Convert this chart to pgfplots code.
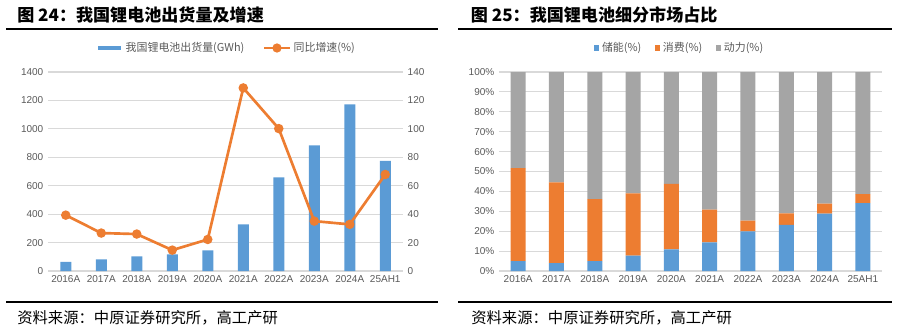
\documentclass[border=0pt]{standalone}
\usepackage{fontspec}
\setmainfont{Liberation Sans}
\newfontfamily\cjk{Noto Sans CJK SC}
\usepackage{pgfplots}
\usepackage{pgfplotstable}
\pgfplotsset{compat=1.18}
\definecolor{cblue}{HTML}{5B9BD5}
\definecolor{corange}{HTML}{ED7D31}
\definecolor{cgray}{HTML}{A5A5A5}
\definecolor{tgray}{HTML}{595959}
\definecolor{ggray}{HTML}{D9D9D9}

\pgfplotstableread{
x vol growth
0 65 39.3
1 82 26.7
2 103 26.0
3 117 14.7
4 145 22.2
5 328 128.8
6 658 100.2
7 883 35.1
8 1173 32.8
9 775 67.9
}\tleft

\pgfplotstableread{
x s c p
0 5.0 46.7 48.3
1 4.0 40.6 55.4
2 5.0 31.1 63.9
3 7.7 31.3 61.0
4 10.9 32.9 56.2
5 14.4 16.4 69.2
6 19.9 5.4 74.7
7 23.2 5.7 71.1
8 28.8 5.0 66.2
9 34.1 4.5 61.4
}\tright

\pgfplotsset{
  common/.style={
    scale only axis,
    height=149.25pt,
    xmin=-0.5, xmax=9.5,
    xtick={0,...,9},
    xticklabels={2016A,2017A,2018A,2019A,2020A,2021A,2022A,2023A,2024A,25AH1},
    major tick length=0pt,
    axis line style={draw=none},
    ticklabel style={font=\fontsize{7.5}{9}\selectfont, text=tgray},
    /pgf/number format/assume math mode=true,
    /pgf/number format/set thousands separator={},
    clip=false,
  },
  lgd/.style={
    legend style={draw=none, fill=none, font=\cjk\fontsize{8.2}{10}\selectfont, text=tgray,
      legend columns=-1, /tikz/every even column/.append style={column sep=12pt}},
  },
}

\begin{document}
\begin{tikzpicture}
\path (0,0) rectangle (673.5pt,247.5pt);

% titles and rules
\node[anchor=west, inner sep=0pt] at (12.75pt,236.25pt) {\cjk\bfseries\fontsize{12.8}{14}\selectfont 图 24：我国锂电池出货量及增速};
\node[anchor=west, inner sep=0pt] at (353pt,236.25pt) {\cjk\bfseries\fontsize{12.8}{14}\selectfont 图 25：我国锂电池细分市场占比};
\draw[line width=1.2pt] (4.5pt,225.75pt) -- (328.5pt,225.75pt);
\draw[line width=1.2pt] (343.5pt,225.75pt) -- (669pt,225.75pt);
\draw[line width=1.6pt] (4.5pt,21pt) -- (328.5pt,21pt);
\draw[line width=1.6pt] (343.5pt,21pt) -- (669pt,21pt);
\node[anchor=west, inner sep=0pt] at (12.75pt,9pt) {\cjk\fontsize{11.5}{13}\selectfont 资料来源：中原证券研究所，高工产研};
\node[anchor=west, inner sep=0pt] at (353.25pt,9pt) {\cjk\fontsize{11.5}{13}\selectfont 资料来源：中原证券研究所，高工产研};

% left chart: bars
\begin{axis}[common,
  at={(36pt,44.25pt)}, anchor=south west,
  width=266.25pt,
  ymin=0, ymax=1400, ytick={0,200,...,1400},
  ytick pos=left,
  ymajorgrids, grid style={ggray, line width=0.8pt},
  ybar, bar width=8.25pt,
]
\addplot[fill=cblue, draw=none] table[x=x, y=vol] {\tleft};
\end{axis}

% left chart: line on right axis
\begin{axis}[common, lgd,
  at={(36pt,44.25pt)}, anchor=south west,
  width=266.25pt,
  ymin=0, ymax=140, ytick={0,20,...,140},
  axis y line*=right, hide x axis,
  legend style={at={(0.5,1)}, anchor=center, yshift=18pt, xshift=1pt},
]
\addlegendimage{legend image code/.code={\draw[cblue, line width=3.2pt] (0pt,0pt) -- (17pt,0pt);}}
\addlegendentry{我国锂电池出货量(GWh)}
\addplot[corange, line width=2pt, mark=*, mark size=2.5pt, mark options={fill=corange},
  legend image code/.code={\draw[corange, line width=2pt] (0pt,0pt) -- (19pt,0pt); \fill[corange] (9.5pt,0pt) circle (2.4pt);}]
  table[x=x, y=growth] {\tleft};
\addlegendentry{同比增速(\%)}
\end{axis}

% right chart: stacked bars
\begin{axis}[common, lgd,
  at={(374.25pt,44.25pt)}, anchor=south west,
  width=287.25pt,
  ymin=0, ymax=100, ytick={0,10,...,100},
  yticklabel={\pgfmathprintnumber{\tick}\%},
  ytick pos=left,
  ymajorgrids, grid style={ggray, line width=0.8pt},
  ybar stacked, bar width=11.25pt,
  legend style={at={(0.5,1)}, anchor=center, yshift=18pt, xshift=-8pt,
    /tikz/every even column/.append style={column sep=8pt}},
  legend image code/.code={\fill[#1] (0pt,-2.1pt) rectangle (4.2pt,2.1pt);},
]
\addplot[fill=cblue, draw=none] table[x=x, y=s] {\tright};
\addlegendentry{储能(\%)}
\addplot[fill=corange, draw=none] table[x=x, y=c] {\tright};
\addlegendentry{消费(\%)}
\addplot[fill=cgray, draw=none] table[x=x, y=p] {\tright};
\addlegendentry{动力(\%)}
\end{axis}
\end{tikzpicture}
\end{document}
